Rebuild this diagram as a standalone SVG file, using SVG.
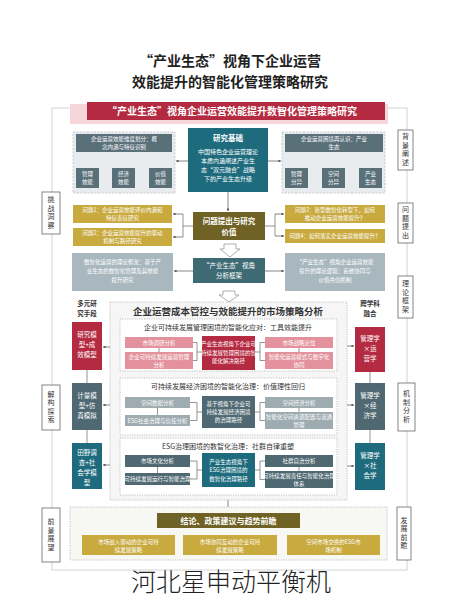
<svg xmlns="http://www.w3.org/2000/svg" width="460" height="600" viewBox="0 0 460 600">
<defs>
<marker id="ah" viewBox="0 0 6 6" refX="5.5" refY="3" markerWidth="4" markerHeight="4" orient="auto"><path d="M0,0 L6,3 L0,6 z" fill="#555"/></marker>
<style>
text{font-family:"Noto Sans CJK SC","Liberation Sans",sans-serif;text-anchor:middle}
.w{fill:#fff;font-size:5.5px}
.w6{fill:#fff;font-size:6px}
.w7{fill:#fff;font-size:6.5px}
.w8{fill:#fff;font-size:7.5px;font-weight:bold}
.d{fill:#333;font-size:7px}
.lab{fill:#fff;stroke:#666;stroke-width:0.8}
.labt{fill:#333;font-size:7px;writing-mode:vertical-rl;letter-spacing:1.5px}
.ln{stroke:#666;stroke-width:0.7;fill:none}
.ar{stroke:#555;stroke-width:0.7;fill:none;marker-end:url(#ah)}
.dash{fill:#e9ecee;stroke:#b9c2c6;stroke-width:0.8;stroke-dasharray:2 1.5}
.dot{fill:#fff;stroke:#b5b5b5;stroke-width:0.8;stroke-dasharray:1.2 1.2}
.cr{fill:#b42a40}.pk{fill:#e3929d}.tl{fill:#1d6b7d}.sl{fill:#4f6871}.ol{fill:#6f6224}.ye{fill:#c9aa3f}.gb{fill:#a9b7be}.gr{fill:#9eacb2}.hd{fill:#5a7079}
.hol{fill:#fff;stroke:#9a9a9a;stroke-width:0.8}
</style>
</defs>
<rect width="460" height="600" fill="#fff"/>

<g id="title">
<text x="230" y="66" style="font-size:14px;font-weight:bold;fill:#222">“产业生态”视角下企业运营</text>
<text x="230" y="87" style="font-size:14px;font-weight:bold;fill:#222">效能提升的智能化管理策略研究</text>
</g>

<g id="frame"><rect x="52" y="108" width="355" height="462" fill="none" stroke="#c8c8c8" stroke-width="0.8"/></g>

<g id="banner">
<rect x="70" y="104" width="318" height="20" fill="#f6d6da"/>
<rect x="87" y="102" width="298" height="18" class="cr"/>
<text x="232" y="115" style="font-size:10px;fill:#fff;font-weight:bold">“产业生态”视角企业运营效能提升数智化管理策略研究</text>
</g>

<g id="connectors">
<path class="ln" d="M124,152 V161 M87.5,161 H160.5 M87.5,161 V168 M123.5,161 V168 M160.5,161 V168"/>
<path class="ln" d="M334,152 V161 M296.5,161 H370.5 M296.5,161 V168 M333.5,161 V168 M370.5,161 V168"/>
<line class="ar" x1="188" y1="161" x2="176" y2="161"/>
<line class="ar" x1="268" y1="161" x2="281" y2="161"/>
<line class="ar" x1="228" y1="192" x2="228" y2="211"/>
<path class="ln" d="M193,226 H183 M183,214 V237"/>
<line class="ar" x1="183" y1="214" x2="173" y2="214"/>
<line class="ar" x1="183" y1="237" x2="173" y2="237"/>
<path class="ln" d="M265,226 H275 M275,214 V236"/>
<line class="ar" x1="275" y1="214" x2="284" y2="214"/>
<line class="ar" x1="275" y1="236" x2="284" y2="236"/>
<line class="ar" x1="193" y1="271" x2="174" y2="271"/>
<line class="ar" x1="265" y1="271" x2="284" y2="271"/>
<path class="hol" d="M224,244 H236 V249 H240 L230,257 L220,249 H224 Z"/>
<path class="hol" d="M223,291 H235 V295 H239 L229,302 L219,295 H223 Z"/>
<line class="ar" x1="120" y1="347" x2="103" y2="347"/>
<line class="ar" x1="120" y1="405" x2="103" y2="405"/>
<line class="ar" x1="120" y1="465" x2="103" y2="465"/>
<line class="ar" x1="337" y1="346" x2="354" y2="346"/>
<line class="ar" x1="337" y1="405" x2="354" y2="405"/>
<line class="ar" x1="337" y1="466" x2="354" y2="466"/>
<path class="ln" d="M87,370 V383 M87,430 V443 M370,372 V383 M370,430 V443"/>
<line class="ar" x1="228" y1="495" x2="228" y2="512"/>
<path class="ln" d="M228,528 V532 M128,532 H333 M128,532 V535 M230,532 V535 M333,532 V535"/>
</g>

<g id="sec1-left">
<rect x="73" y="132" width="102" height="61" class="dash"/>
<rect x="76" y="134" width="96" height="18" class="hd"/>
<text class="w"><tspan x="124" y="141">企业运营效能维度划分：概</tspan><tspan x="124" y="149">念内涵与特征识别</tspan></text>
<rect x="76" y="168" width="23" height="20" class="hd"/><text class="w"><tspan x="87.5" y="176">管理</tspan><tspan x="87.5" y="184">效能</tspan></text>
<rect x="112" y="168" width="23" height="20" class="hd"/><text class="w"><tspan x="123.5" y="176">经济</tspan><tspan x="123.5" y="184">效能</tspan></text>
<rect x="149" y="168" width="23" height="20" class="hd"/><text class="w"><tspan x="160.5" y="176">价值</tspan><tspan x="160.5" y="184">效能</tspan></text>
</g>

<g id="sec1-center">
<rect x="188" y="128" width="80" height="64" class="tl"/>
<text x="228" y="141" class="w8">研究基础</text>
<text class="w6"><tspan x="228" y="154">中国特色企业运营理论</tspan><tspan x="228" y="163">本质内涵阐述产业生</tspan><tspan x="228" y="172">态“双元融合”战略</tspan><tspan x="228" y="181">下的产业生态升级</tspan></text>
</g>

<g id="sec1-right">
<rect x="282" y="132" width="103" height="61" class="dash"/>
<rect x="285" y="134" width="98" height="18" class="hd"/>
<text class="w"><tspan x="334" y="141">企业运营困境再认识：产业</tspan><tspan x="334" y="149">生态</tspan></text>
<rect x="285" y="168" width="23" height="20" class="hd"/><text class="w"><tspan x="296.5" y="176">管理</tspan><tspan x="296.5" y="184">分异</tspan></text>
<rect x="322" y="168" width="23" height="20" class="hd"/><text class="w"><tspan x="333.5" y="176">空间</tspan><tspan x="333.5" y="184">分异</tspan></text>
<rect x="359" y="168" width="23" height="20" class="hd"/><text class="w"><tspan x="370.5" y="176">产业</tspan><tspan x="370.5" y="184">生态</tspan></text>
</g>

<g id="sec2">
<rect x="193" y="212" width="72" height="28" class="ol"/>
<text class="w8"><tspan x="229" y="224">问题提出与研究</tspan><tspan x="229" y="235">价值</tspan></text>
<rect x="73" y="205" width="99" height="18" class="ye"/>
<text class="w"><tspan x="122.5" y="212">问题1：企业运营效能评价内涵和</tspan><tspan x="122.5" y="220">特征表征研究</tspan></text>
<rect x="73" y="228" width="99" height="18" class="ye"/>
<text class="w"><tspan x="122.5" y="235">问题2：企业运营效能提升的驱动</tspan><tspan x="122.5" y="243">机制与路径研究</tspan></text>
<rect x="285" y="205" width="100" height="18" class="ye"/>
<text class="w"><tspan x="335" y="212">问题3：新型数智化转型下，如何</tspan><tspan x="335" y="220">推动企业运营效能提升？</tspan></text>
<rect x="285" y="229" width="100" height="14" class="ye"/>
<text class="w" x="335" y="238">问题4：如何落实企业运营效能提升？</text>
</g>

<g id="sec3">
<rect x="72" y="253" width="101" height="38" class="gb"/>
<text class="w"><tspan x="122.5" y="264">数智化运营的理论框架：基于产</tspan><tspan x="122.5" y="273">业生态的数智化管理及其效能</tspan><tspan x="122.5" y="282">提升研究</tspan></text>
<rect x="193" y="258" width="72" height="25" fill="#3e6a74"/>
<text class="w7"><tspan x="229" y="268">“产业生态”视角</tspan><tspan x="229" y="278">分析框架</tspan></text>
<rect x="285" y="253" width="100" height="38" class="gb"/>
<text class="w"><tspan x="335" y="264">“产业生态”视角企业运营效能</tspan><tspan x="335" y="273">提升的理论逻辑：系统协同与</tspan><tspan x="335" y="282">价值共创机制</tspan></text>
</g>

<g id="sec4">
<rect x="110" y="302" width="237" height="198" class="dot" style="fill:#f6f6f6"/>
<text x="228" y="315" style="font-size:9.5px;font-weight:bold;fill:#333">企业运营成本管控与效能提升的市场策略分析</text>
</g>

<g id="sub1">
<rect x="120" y="319" width="217" height="52" class="dot"/>
<text x="228" y="330" class="d">企业可持续发展管理困境的智能化应对：工具效能提升</text>
<rect x="125" y="337" width="68" height="11" class="pk"/><text class="w" x="159" y="344.5">市场调研分析</text>
<rect x="125" y="352" width="68" height="17" class="pk"/><text class="w"><tspan x="159" y="359">企业可持续发展运营管理</tspan><tspan x="159" y="367">分析</tspan></text>
<rect x="202" y="336" width="53" height="34" class="cr"/>
<text class="w"><tspan x="228.5" y="346">产业生态视角下企业可</tspan><tspan x="228.5" y="354.5">持续发展管理困境的智</tspan><tspan x="228.5" y="363">能化解决路径</tspan></text>
<rect x="265" y="337" width="68" height="11" class="pk"/><text class="w" x="299" y="344.5">市场战略定位</text>
<rect x="265" y="352" width="68" height="17" class="pk"/><text class="w"><tspan x="299" y="359">智能化运营模式与数字化</tspan><tspan x="299" y="367">协同</tspan></text>
<path class="ln" d="M193,342.5 H197 V360.5 H193 M197,352 H202 M159,348 V352 M255,352 H260 M260,342.5 V360.5 M260,342.5 H265 M260,360.5 H265 M299,348 V352"/>
</g>

<g id="sub2">
<rect x="120" y="378" width="217" height="57" class="dot"/>
<text x="228" y="389" class="d">可持续发展经济困境的智能化治理：价值理性回归</text>
<rect x="125" y="397" width="65" height="11" class="gr"/><text class="w" x="157.5" y="404.5">空间数据分析</text>
<rect x="125" y="415" width="65" height="11" class="gr"/><text class="w" x="157.5" y="422.5">ESG社会治理与信任分析</text>
<rect x="202" y="396" width="53" height="32" class="sl"/>
<text class="w"><tspan x="228.5" y="406">基于视角下企业可</tspan><tspan x="228.5" y="414">持续发展经济困境</tspan><tspan x="228.5" y="422">的治理路径</tspan></text>
<rect x="265" y="397" width="68" height="11" class="gr"/><text class="w" x="299" y="404.5">空间经济分析</text>
<rect x="265" y="412" width="68" height="17" class="gr"/><text class="w"><tspan x="299" y="419">智能化空间资源配置与流通</tspan><tspan x="299" y="427">管理</tspan></text>
<path class="ln" d="M190,402.5 H197 V420.5 H190 M197,412 H202 M157.5,408 V415 M255,412 H260 M260,402.5 V420.5 M260,402.5 H265 M260,420.5 H265 M299,408 V412"/>
</g>

<g id="sub3">
<rect x="120" y="438" width="217" height="57" class="dot"/>
<text x="228" y="449" class="d">ESG治理困境的数智化治理：社群自律重塑</text>
<rect x="125" y="455" width="65" height="12" class="sl"/><text class="w" x="157.5" y="463">市场文化分析</text>
<rect x="125" y="473" width="65" height="12" class="sl"/><text class="w" x="157.5" y="481">可持续发展运行与智能治理</text>
<rect x="202" y="453" width="53" height="34" class="tl"/>
<text class="w"><tspan x="228.5" y="463.5">产业生态视角下</tspan><tspan x="228.5" y="472">ESG治理困境的</tspan><tspan x="228.5" y="480.5">数智化治理路径</tspan></text>
<rect x="265" y="455" width="68" height="12" class="sl"/><text class="w" x="299" y="463">社群自治分析</text>
<rect x="265" y="471" width="68" height="17" class="sl"/><text class="w"><tspan x="299" y="478">可持续发展责任与智能化治理</tspan><tspan x="299" y="486">体系</tspan></text>
<path class="ln" d="M190,461 H197 V479 H190 M197,470 H202 M157.5,467 V473 M255,470 H260 M260,461 V479.5 M260,461 H265 M260,479.5 H265 M299,467 V471"/>
</g>

<g id="left-col">
<text style="font-size:6.5px;font-weight:bold;fill:#333"><tspan x="87" y="306">多元研</tspan><tspan x="87" y="316">究手段</tspan></text>
<rect x="72" y="322" width="30" height="48" class="cr"/>
<text class="w7"><tspan x="87" y="337">研究模</tspan><tspan x="87" y="347">型+成</tspan><tspan x="87" y="357">效模型</tspan></text>
<rect x="72" y="383" width="30" height="47" class="sl"/>
<text class="w7"><tspan x="87" y="398">计量模</tspan><tspan x="87" y="408">型+仿</tspan><tspan x="87" y="418">真模拟</tspan></text>
<rect x="72" y="443" width="30" height="46" class="tl"/>
<text class="w7"><tspan x="87" y="455">田野调</tspan><tspan x="87" y="465">查+社</tspan><tspan x="87" y="475">会学模</tspan><tspan x="87" y="485">型</tspan></text>
</g>

<g id="right-col">
<text style="font-size:6.5px;font-weight:bold;fill:#333"><tspan x="370" y="306">跨学科</tspan><tspan x="370" y="316">融合</tspan></text>
<rect x="355" y="327" width="30" height="45" class="cr"/>
<text class="w7"><tspan x="370" y="341">管理学</tspan><tspan x="370" y="351">×运</tspan><tspan x="370" y="361">营学</tspan></text>
<rect x="355" y="383" width="30" height="47" class="sl"/>
<text class="w7"><tspan x="370" y="398">管理学</tspan><tspan x="370" y="408">×经</tspan><tspan x="370" y="418">济学</tspan></text>
<rect x="355" y="443" width="30" height="47" class="tl"/>
<text class="w7"><tspan x="370" y="458">管理学</tspan><tspan x="370" y="468">×社</tspan><tspan x="370" y="478">会学</tspan></text>
</g>

<g id="sec5">
<rect x="70" y="507" width="317" height="53" class="dot" style="fill:#f7f7f3"/>
<rect x="157" y="513" width="143" height="15" class="ol"/>
<text x="228.5" y="523.5" style="font-size:8px;font-weight:bold;fill:#fff">结论、政策建议与趋势前瞻</text>
<rect x="82" y="535" width="93" height="20" class="ye"/>
<text class="w"><tspan x="128.5" y="543.5">市场嵌入驱动的企业可持</tspan><tspan x="128.5" y="551.5">续发展策略</tspan></text>
<rect x="183" y="535" width="94" height="20" class="ye"/>
<text class="w"><tspan x="230" y="543.5">市场协同互动的企业可持</tspan><tspan x="230" y="551.5">续发展策略</tspan></text>
<rect x="287" y="535" width="93" height="20" class="ye"/>
<text class="w"><tspan x="333.5" y="543.5">空间市场交换的ESG市</tspan><tspan x="333.5" y="551.5">场机制</tspan></text>
</g>

<g id="side-labels">
<rect x="398" y="130" width="15" height="40" class="lab"/>
<text class="labt" x="405.5" y="150">背景阐述</text>
<rect x="42" y="192" width="18" height="42" class="lab"/>
<text class="labt" x="51" y="213">挑战洞察</text>
<rect x="398" y="203" width="15" height="40" class="lab"/>
<text class="labt" x="405.5" y="223">问题提出</text>
<rect x="398" y="276" width="15" height="42" class="lab"/>
<text class="labt" x="405.5" y="297">理论框架</text>
<rect x="42" y="385" width="18" height="45" class="lab"/>
<text class="labt" x="51" y="407.5">解构探索</text>
<rect x="398" y="383" width="17" height="48" class="lab"/>
<text class="labt" x="406.5" y="407">机制分析</text>
<rect x="42" y="508" width="18" height="54" class="lab"/>
<text class="labt" x="51" y="535">前景展望</text>
<rect x="397" y="507" width="14" height="53" class="lab"/>
<text class="labt" x="404" y="533.5">发展前瞻</text>
</g>

<g id="watermark">
<text x="231" y="591" style="font-size:25px;fill:#222;font-weight:300">河北星申动平衡机</text>
</g>
</svg>
